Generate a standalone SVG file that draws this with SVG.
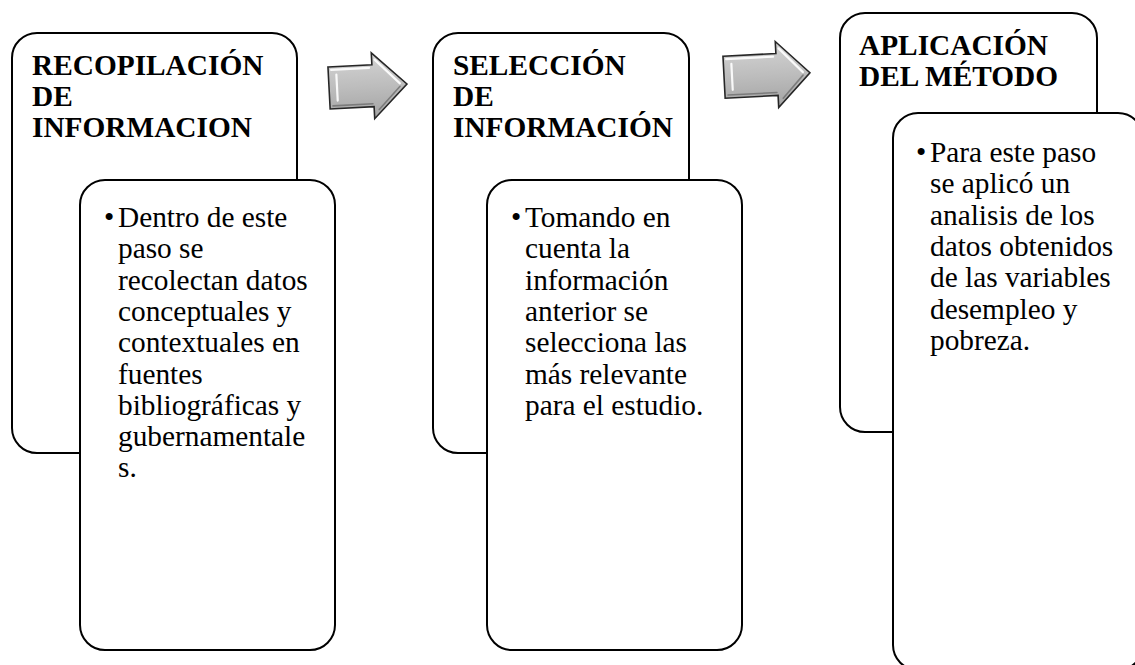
<svg xmlns="http://www.w3.org/2000/svg" width="1135" height="665" viewBox="0 0 1135 665">
  <style>
    .box { fill: #ffffff; stroke: #000000; stroke-width: 2; }
    .title { font-family: "Liberation Serif", "Times New Roman", serif; font-weight: bold; font-size: 29.33px; fill: #000000; }
    .body { font-family: "Liberation Serif", "Times New Roman", serif; font-size: 29.33px; fill: #000000; }
    .arrow { fill: url(#arrowGrad); stroke: #262626; stroke-width: 1.6; stroke-linejoin: miter; }
    .hl { fill: none; stroke: #ffffff; stroke-width: 2.2; stroke-linecap: round; opacity: 0.9; }
    .sh { fill: none; stroke: #6e6e6e; stroke-width: 1.6; stroke-linecap: round; opacity: 0.8; }
  </style>
  <defs>
    <linearGradient id="arrowGrad" x1="0" y1="0" x2="0" y2="1">
      <stop offset="0" stop-color="#d4d4d4"/>
      <stop offset="0.5" stop-color="#bdbdbd"/>
      <stop offset="1" stop-color="#a3a3a3"/>
    </linearGradient>
  </defs>

  <g id="node-recopilacion">
    <rect class="box" x="12" y="33" width="285" height="420" rx="25" ry="25"/>
    <text class="title">
      <tspan x="32" y="75">RECOPILACIÓN</tspan>
      <tspan x="32" y="106">DE</tspan>
      <tspan x="32" y="137">INFORMACION</tspan>
    </text>
  </g>
  <g id="node-recopilacion-detalle">
    <rect class="box" x="80" y="180" width="255" height="470" rx="25" ry="25"/>
    <text class="body" x="104" y="227">•</text>
    <text class="body">
      <tspan x="118" y="227">Dentro de este</tspan>
      <tspan x="118" y="258.3">paso se</tspan>
      <tspan x="118" y="289.6">recolectan datos</tspan>
      <tspan x="118" y="320.9">conceptuales y</tspan>
      <tspan x="118" y="352.2">contextuales en</tspan>
      <tspan x="118" y="383.5">fuentes</tspan>
      <tspan x="118" y="414.8">bibliográficas y</tspan>
      <tspan x="118" y="446.1">gubernamentale</tspan>
      <tspan x="118" y="477.4">s.</tspan>
    </text>
  </g>

  <g id="node-seleccion">
    <rect class="box" x="433" y="33" width="256" height="420" rx="25" ry="25"/>
    <text class="title">
      <tspan x="453" y="75">SELECCIÓN</tspan>
      <tspan x="453" y="106">DE</tspan>
      <tspan x="453" y="137">INFORMACIÓN</tspan>
    </text>
  </g>
  <g id="node-seleccion-detalle">
    <rect class="box" x="487" y="180" width="255" height="470" rx="25" ry="25"/>
    <text class="body" x="511" y="227">•</text>
    <text class="body">
      <tspan x="525" y="227">Tomando en</tspan>
      <tspan x="525" y="258.3">cuenta la</tspan>
      <tspan x="525" y="289.6">información</tspan>
      <tspan x="525" y="320.9">anterior se</tspan>
      <tspan x="525" y="352.2">selecciona las</tspan>
      <tspan x="525" y="383.5">más relevante</tspan>
      <tspan x="525" y="414.8">para el estudio.</tspan>
    </text>
  </g>

  <g id="node-aplicacion">
    <rect class="box" x="840" y="13" width="257" height="419" rx="25" ry="25"/>
    <text class="title">
      <tspan x="859" y="55">APLICACIÓN</tspan>
      <tspan x="859" y="86">DEL MÉTODO</tspan>
    </text>
  </g>
  <g id="node-aplicacion-detalle">
    <rect class="box" x="893" y="113" width="250" height="557" rx="25" ry="25"/>
    <text class="body" x="916" y="162">•</text>
    <text class="body">
      <tspan x="930" y="162">Para este paso</tspan>
      <tspan x="930" y="193.3">se aplicó un</tspan>
      <tspan x="930" y="224.6">analisis de los</tspan>
      <tspan x="930" y="255.9">datos obtenidos</tspan>
      <tspan x="930" y="287.2">de las variables</tspan>
      <tspan x="930" y="318.5">desempleo y</tspan>
      <tspan x="930" y="349.8">pobreza.</tspan>
    </text>
  </g>

  <g id="connectors">
    <g id="arrow-1" transform="rotate(-3 368 86)">
      <path class="arrow" d="M329,65 L373,65 L373,53 L407,86 L373,119 L373,107 L329,107 Z"/>
      <path class="hl" d="M337,73 L337,99"/>
      <path class="hl" d="M332,68 L370,68"/>
      <path class="hl" d="M376,60 L400,85"/>
      <path class="sh" d="M400,88 L378,110"/>
      <path class="sh" d="M332,104 L372,104"/>
    </g>
    <g id="arrow-2" transform="rotate(-3 767 75)">
      <path class="arrow" d="M724,54 L777,54 L777,42 L810,75 L777,108 L777,96 L724,96 Z"/>
      <path class="hl" d="M732,62 L732,88"/>
      <path class="hl" d="M727,57 L774,57"/>
      <path class="hl" d="M780,49 L803,74"/>
      <path class="sh" d="M803,77 L782,99"/>
      <path class="sh" d="M727,93 L776,93"/>
    </g>
  </g>
</svg>
